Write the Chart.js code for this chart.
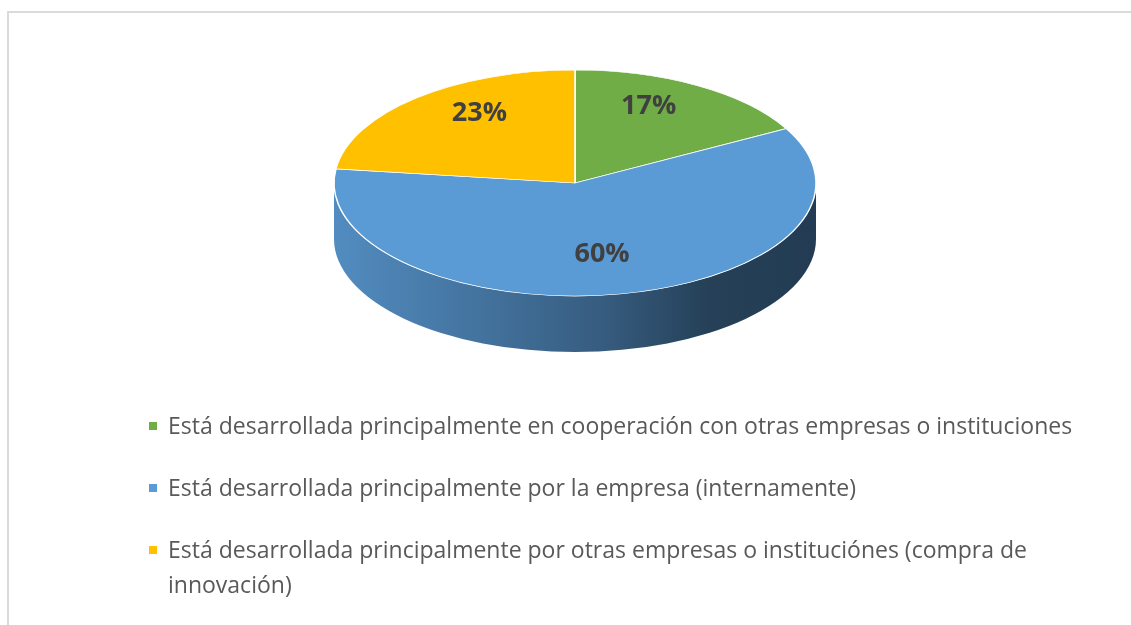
<!DOCTYPE html>
<html>
<head>
<meta charset="utf-8">
<script src="https://cdn.jsdelivr.net/npm/chart.js@4.4.1/dist/chart.umd.min.js"></script>
<style>
  body { margin: 0; background: #fff; width: 1131px; height: 625px; overflow: hidden; position: relative; font-family: "Open Sans", sans-serif; }
  #frame { position: absolute; left: 7px; top: 11px; width: 1140px; height: 700px; border: 2px solid #dadada; }
  #wrap { position: absolute; left: 0; top: 0; width: 1131px; height: 625px; }
  #legend { position: absolute; left: 149px; top: 408px; margin: 0; padding: 0; list-style: none; width: 955px; }
  #legend li { display: flex; align-items: flex-start; margin-bottom: 27px; color: #595959; font-size: 23px; line-height: 35px; }
  #legend .box { width: 8px; height: 8px; margin-top: 14px; margin-right: 11px; flex: none; }
</style>
</head>
<body>
<div id="frame"></div>
<div id="wrap"><canvas id="pieChart"></canvas></div>
<ul id="legend"></ul>
<script>
const labels = [
    "Está desarrollada principalmente en cooperación con otras empresas o instituciones",
    "Está desarrollada principalmente por la empresa (internamente)",
    "Está desarrollada principalmente por otras empresas o instituciónes (compra de innovación)"
];
const values = [17, 60, 23];
const colors = ["#70ad47", "#5b9bd5", "#ffc000"];

// where the tilted pie sits on the page
const CX = 575, CY = 183, RX = 241, RY = 113, DEPTH = 56;

function shade(hex, f) {
    let n = parseInt(hex.slice(1), 16);
    let r = Math.round(((n >> 16) & 255) * f);
    let g = Math.round(((n >> 8) & 255) * f);
    let b = Math.round((n & 255) * f);
    return `rgb(${r},${g},${b})`;
}

const tiltPlugin = {
    id: "tilt",
    beforeDatasetsDraw(chart) {
        let ctx = chart.ctx;
        let meta = chart.getDatasetMeta(0);

        // side wall of the front half
        meta.data.forEach((arc, i) => {
            let p = arc.getProps(["startAngle", "endAngle"], true);
            for (let k = -1; k <= 1; k++) {
                let a = Math.max(p.startAngle, k * 2 * Math.PI);
                let b = Math.min(p.endAngle, k * 2 * Math.PI + Math.PI);
                if (b <= a) continue;
                ctx.beginPath();
                ctx.ellipse(CX, CY, RX, RY, 0, a, b);
                ctx.ellipse(CX, CY + DEPTH, RX, RY, 0, b, a, true);
                ctx.closePath();
                let grad = ctx.createLinearGradient(CX - RX, 0, CX + RX, 0);
                grad.addColorStop(0, shade(colors[i], 0.9));
                grad.addColorStop(0.3, shade(colors[i], 0.74));
                grad.addColorStop(0.55, shade(colors[i], 0.6));
                grad.addColorStop(0.78, shade(colors[i], 0.41));
                grad.addColorStop(1, shade(colors[i], 0.39));
                ctx.fillStyle = grad;
                ctx.fill();
            }
        });

        let c = meta.data[0].getProps(["x", "y", "outerRadius"], true);
        ctx.save();
        ctx.translate(CX, CY);
        ctx.scale(RX / c.outerRadius, RY / c.outerRadius);
        ctx.translate(-c.x, -c.y);
    },
    afterDatasetsDraw(chart) {
        let ctx = chart.ctx;
        ctx.restore();

        // percentage labels, placed with a little perspective (back half looks shorter)
        let meta = chart.getDatasetMeta(0);
        ctx.save();
        ctx.font = "bold 27px 'Open Sans'";
        ctx.fillStyle = "#404040";
        ctx.textAlign = "center";
        ctx.textBaseline = "middle";
        meta.data.forEach((arc, i) => {
            let p = arc.getProps(["startAngle", "endAngle"], true);
            let mid = (p.startAngle + p.endAngle) / 2;
            let s = Math.sin(mid);
            let px = CX + RX * 0.6 * Math.cos(mid);
            let py = 161 + (s < 0 ? 91 : 135) * 0.7 * s;
            ctx.fillText(values[i] + "%", px, py);
        });
        ctx.restore();
    }
};

new Chart(document.getElementById("pieChart"), {
    type: "pie",
    data: {
        labels: labels,
        datasets: [{
            data: values,
            backgroundColor: colors,
            borderColor: "#ffffff",
            borderWidth: 2,
            clip: false
        }]
    },
    options: {
        responsive: true,
        maintainAspectRatio: false,
        animation: false,
        events: [],
        plugins: {
            legend: { display: false },
            tooltip: { enabled: false }
        }
    },
    plugins: [tiltPlugin]
});

let legend = document.getElementById("legend");
labels.forEach((text, i) => {
    let li = document.createElement("li");
    let box = document.createElement("span");
    box.className = "box";
    box.style.background = colors[i];
    let span = document.createElement("span");
    span.textContent = text;
    li.appendChild(box);
    li.appendChild(span);
    legend.appendChild(li);
});
</script>
</body>
</html>
